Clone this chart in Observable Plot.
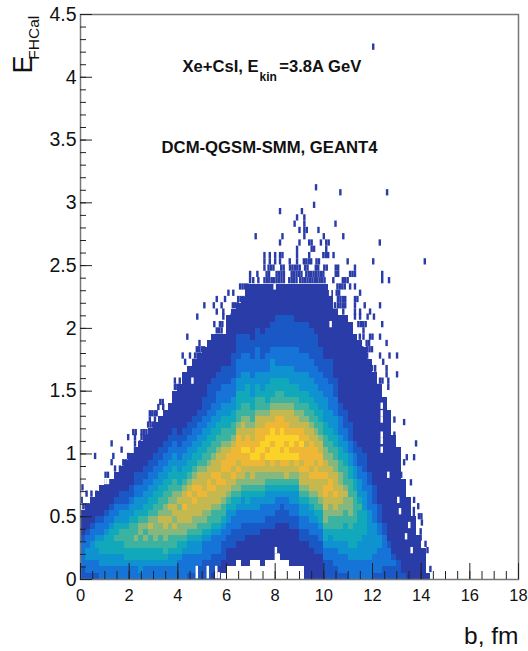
<!DOCTYPE html>
<html><head><meta charset="utf-8">
<script src="https://cdn.jsdelivr.net/npm/d3@7"></script>
<script src="https://cdn.jsdelivr.net/npm/@observablehq/plot@0.6"></script>
<style>html,body{margin:0;padding:0;background:#fff}svg{display:block}</style>
</head><body><div id="chart"></div>
<script>
const binB = 0.2, binE = 0.05;
// one string per 0.2 fm column, levels bottom to top, one character per 0.05 of E
const columns = [
"22333 32111 1","23344 33211 11","23344 43321 111","23344 54332 1111","33445 54332 11111",
"33445 55433 21111 1","33445 55543 32111 1","33445 56554 33211 11","33445 56654 43221 111","33455 66654 43221 1111",
"33455 66665 44322 11111","33455 67665 54433 22111 1","34455 66776 54433 22111 11","33455 67676 55443 32211 111","33455 66787 65544 33221 1111",
"33455 67777 66554 43322 11111","33455 66778 76655 44332 21111 1","33456 67788 77665 54433 22111 11","33445 66778 78766 55443 32211 111","33445 66787 88776 65544 33221 11111",
"33345 56778 87876 55443 32211 11111 1","33334 56778 89887 65544 33221 11111 111","23334 45678 88898 76554 43322 11111 1111","23334 45677 88989 87655 44332 21111 11111","22334 45667 88899 88765 54433 22111 11111 1",
"22233 34567 78898 88766 55443 32221 11111 11","22233 34566 78889 98876 65544 33222 21111 111","12223 33456 67889 89887 66554 43322 22111 1111","11223 33456 67888 99888 76655 44333 22211 1111","01122 23345 66788 98998 87665 54433 32221 1111",
"00111 22334 45678 88999 87665 54433 32221 11111 11","00111 22233 45567 89899 98766 55443 33222 21111 111","00011 12233 34567 78989 99987 66555 44333 22221 1111","00111 12223 34456 78899 a9888 76655 44433 32221 11111","00111 11223 34556 77899 a9987 76655 54433 32221 11111 11",
"00011 11223 34456 7889a 99887 66554 44333 22211 11111 11","00011 11223 34456 7789a a9998 87665 54433 33222 11111 11","00111 11123 33456 77899 aa998 87665 44433 22221 11111 11","00011 11122 33445 6788a 9aa99 87655 54433 32222 11111 11","00011 11122 33445 6789a a9aa9 88765 55444 33222 21111 11",
"00001 11112 23345 6788a aaa99 98766 55443 33222 22111 11","00011 11112 22345 6789a 9aaa9 98766 55443 33222 22111 11","00011 11112 23345 6889a a9a99 88765 55443 33222 22111 11","00111 11122 33445 6788a 9aa98 88765 54443 33222 22111 11","00111 11122 33445 6789a 99a98 87665 54433 33222 21111 11",
"00111 12233 44567 88989 9a998 77655 44433 32222 21111 11","11111 12233 44567 88999 98988 76655 44433 32222 21111 11","11111 22334 45678 89899 99887 66554 44333 22222 11111 11","11112 22334 56678 89989 98876 65544 43332 22221 11111 11","11112 23345 56788 89899 88766 55444 33322 22111 11111 11",
"22233 45567 78899 89887 76655 44443 33222 11111 11111 11","22233 44566 77889 98877 66554 44333 32222 11111 11111 1","22333 45566 78898 88776 65544 43332 22111 11111 111","23334 45566 77888 77665 54433 32211 11111 11111 11","23334 45556 67787 66655 44332 22111 11111 11111 11",
"33344 55566 77766 65544 33222 11111 11111 11111 1","33344 55556 66665 54433 22111 11111 11111 1111","33344 45555 56544 43322 21111 11111 11111 111","33344 44555 54443 33222 11111 11111 11111 11","33344 44444 43333 22111 11111 11111 11111",
"23334 44443 33222 11111 11111 11111 111","23333 44332 22111 11111 11111 11111 1","22333 33221 11111 11111 11111 1111","22333 21111 11111 11111 11111 11","22321 11111 11111 11111 111",
"22211 11111 11111 11111 1","21111 11111 11111 1","11111 11111 111","11111 11111","11111 11","11111","1"
];
// isolated 0.1 fm cells beyond the solid region: [E, b, b, ...]
const speckRows = [
[4.24,12.05],[3.12,9.7],[3.08,10.7,12.62],[2.98,9.62],[2.93,8.22,9.12],[2.88,8.92,9.22],[2.83,8.82,9.22,10.5],
[2.78,9.02,9.22,9.32,9.8],[2.73,7.22,8.32,9.22,10.02,10.82],[2.68,8.22,9.02,9.42,9.52,9.9,10.12,10.22,12.32],
[2.63,8.92,9.52,9.62,10.12],[2.58,7.58,7.8,8.02,8.22,8.32,8.92,9.42,10.0,10.1,10.2,10.42],
[2.53,7.58,7.8,8.02,8.22,8.62,8.92,9.2,9.3,9.4,9.5,9.72,9.82,11.0,12.05,14.17],
[2.48,7.58,7.75,7.85,7.95,8.27,8.37,8.63,8.73,8.83,8.93,9.03,9.25,9.35,9.69,9.79,10.04,10.14,10.51,10.61,11.3],
[2.43,6.99,7.29,7.67,7.77,8.08,8.18,8.28,8.38,8.7,8.8,8.9,9.0,9.1,9.3,9.4,9.5,9.6,9.7,9.8,9.9,10.0,10.51,10.61,11.1,11.2,11.3,12.42],
[2.38,6.99,7.12,7.33,7.58,7.68,7.78,7.88,7.98,8.08,8.18,8.28,8.38,8.6,8.7,8.8,8.9,9.05,9.15,9.25,9.35,9.45,9.55,9.65,9.75,9.85,9.95,10.05,10.41,10.8,10.9,11.0,12.42,12.7],
[2.33,6.58,6.68,6.78,6.88,10.58,10.68,10.78,10.88,11.1,11.3],
[2.28,6.1,6.3,6.92,7.02,10.55,10.65,11.51],
[2.23,5.62,5.96,6.5,6.6,6.7,6.8,7.06,10.6,10.7,10.8,10.9,11.3,11.4],
[2.18,5.11,5.5,5.82,6.28,6.38,6.48,6.78,10.48,10.6,10.7,10.8,10.9,11.3,11.7,12.33],
[2.13,5.62,5.89,10.41,10.55,10.82,11.3,11.51,11.92],
[2.09,4.82,5.89,6.23,11.3,11.51,11.82,12.08],
[2.03,5.52,5.75,5.85,6.17,10.6,10.7,10.8,11.44,11.54,11.64,11.74,12.42],
[1.98,5.62,5.72,5.82,10.9,11.0,11.65],
[1.93,4.41,11.5,11.65,11.92,12.02,12.33],
[1.88,4.91,11.1,11.2,11.78,11.88,12.6],
[1.83,4.8,4.9,5.0,5.1,11.3,11.6,11.8,11.9,12.0],
[1.78,4.22,4.52,4.73,4.83,4.93,11.5,11.6,11.7,11.8,12.33,12.72,13.03],
[1.73,4.32,4.66,11.5,11.6,11.7,11.8,12.46],
[1.68,11.9,12.0,12.13,12.6],
[1.63,11.8,11.9,12.13,12.6,13.03],
[1.58,3.9,4.1,4.4,11.8,11.95,12.05,12.33,12.43,12.67],
[1.53,3.9,4.0,4.1,12.2,12.3,12.67],
[1.41,3.3,3.4],[1.37,3.22,3.42],[1.32,2.87,2.97,3.07,3.15],[1.27,2.87,3.08,12.92],[1.25,13.32],[1.23,2.8,2.9,3.0],
[1.17,2.19,2.29,2.53,2.63,2.73,3.0],[1.15,12.92],[1.13,1.98,2.26,2.53,2.8],[1.08,1.3,2.26,2.46,13.81],[1.03,1.71,2.26],[1.02,12.97],
[0.98,0.62,1.37,1.98],[0.97,13.43,13.73],[0.93,1.3,1.78,1.88,2.0,13.32],[0.88,1.44,1.64,1.78],[0.83,1.05,1.15,13.2],
[0.77,13.6],[0.75,13.3],[0.73,0.1],[0.7,13.3],[0.68,0.27,0.47,0.68],[0.63,0.07,13.3,13.73],[0.58,0.14,0.24,0.34,0.44,13.5,13.9],
[0.55,13.72],[0.5,13.72,13.93,14.03],[0.45,13.72,14.05],[0.38,13.72,14.0],[0.33,14.0],[0.28,14.2],[0.23,13.95,14.28],
[0.18,14.12],[0.13,14.12],[0.08,14.12,14.4],[0.03,14.12]
];
// empty 0.1 fm cells inside the solid region: [E, b, b, ...]
const gapRows = [
[1.38,12.4],[1.32,12.4],[1.27,12.4],[1.15,12.4],[1.1,12.4],[1.03,12.4],[0.83,12.67],[0.78,0.95,1.05,1.15],[0.63,13.08],[0.54,13.15],
[0.43,13.53],[0.34,13.4],[0.23,13.63],[2.33,8.0],[2.28,10.28],[2.03,10.3],[1.58,4.62],[0.08,4.8,5.25,5.6],[0.03,4.8,5.25,5.6,5.7],
[0.08,8.05],[0.13,8.05,8.15],[0.18,8.05,8.15],[0.23,8.05]
];
const xMajor = [0,2,4,6,8,10,12,14,16,18];
const xMinor = d3.range(0,18.01,0.5);
const yMajor = [0,0.5,1,1.5,2,2.5,3,3.5,4,4.5];
const yMinor = d3.range(0,4.501,0.1);
const levelValues = ["1","2","3","4","5","6","7","8","9","a"];
const levelColors = ["#2a3ca8","#1a58c6","#1674d8","#0f92d0","#10a8ba","#3cb2a0","#86b87e","#c4b84e","#eeb836","#fbd226"];

const cells = [];
columns.forEach((c,j)=>{
  [...c.replace(/ /g,"")].forEach((ch,i)=>{
    if(ch!=="0") cells.push({b1:j*binB,b2:(j+1)*binB,e1:i*binE,e2:(i+1)*binE,level:ch});
  });
});
const expand = rows => rows.flatMap(([e,...bs])=>bs.map(b=>({b,e})));
const specks = expand(speckRows);
const gaps = expand(gapRows);

const plot = Plot.plot({
  width:528,height:651,marginLeft:80,marginRight:10,marginTop:14,marginBottom:72,
  style:{fontFamily:"'Liberation Sans',Arial,sans-serif",background:"#fff",color:"#111"},
  x:{domain:[0,18],axis:null},
  y:{domain:[0,4.5],axis:null},
  color:{type:"ordinal",domain:levelValues,range:levelColors},
  marks:[
    Plot.rect(cells,{x1:"b1",x2:"b2",y1:"e1",y2:"e2",fill:"level",shapeRendering:"crispEdges"}),
    Plot.rect(gaps,{x1:d=>d.b-0.05,x2:d=>d.b+0.05,y1:d=>d.e-0.025,y2:d=>d.e+0.025,fill:"#fff"}),
    Plot.rect(specks,{x1:d=>d.b-0.05,x2:d=>d.b+0.05,y1:d=>d.e-0.025,y2:d=>d.e+0.025,fill:()=>"1"}),
    Plot.frame({stroke:"#777",strokeWidth:1.5}),
    Plot.axisX({ticks:xMinor,tickSize:-8,text:null,label:null,stroke:"#222"}),
    Plot.axisX({ticks:xMajor,tickSize:-16,text:null,label:null,stroke:"#222"}),
    Plot.axisY({ticks:yMinor,tickSize:-6,text:null,label:null,stroke:"#222"}),
    Plot.axisY({ticks:yMajor,tickSize:-12,text:null,label:null,stroke:"#222"}),
    Plot.axisX({ticks:xMajor,tickSize:0,tickPadding:10,label:null,fontSize:16.5,tickFormat:d=>d}),
    Plot.axisY({ticks:yMajor,tickSize:0,tickPadding:4,label:null,fontSize:19.5,tickFormat:d=>d}),
    Plot.text(["b, fm"],{x:18,y:-0.51,text:d=>d,textAnchor:"end",fontSize:24.5,lineAnchor:"bottom"}),
    Plot.text(["E"],{x:-2.0,y:4.03,text:d=>d,textAnchor:"start",rotate:-90,fontSize:27,lineAnchor:"bottom"}),
    Plot.text(["FHCal"],{x:-1.69,y:4.14,text:d=>d,textAnchor:"start",rotate:-90,fontSize:15.5,lineAnchor:"bottom"}),
    Plot.text(["Xe+CsI, E"],{x:4.19,y:4.04,text:d=>d,textAnchor:"start",fontSize:16.6,fontWeight:"bold",lineAnchor:"bottom"}),
    Plot.text(["kin"],{x:7.36,y:3.97,text:d=>d,textAnchor:"start",fontSize:12,fontWeight:"bold",lineAnchor:"bottom"}),
    Plot.text(["=3.8A GeV"],{x:8.17,y:4.04,text:d=>d,textAnchor:"start",fontSize:16.6,fontWeight:"bold",lineAnchor:"bottom"}),
    Plot.text(["DCM-QGSM-SMM, GEANT4"],{x:3.33,y:3.4,text:d=>d,textAnchor:"start",fontSize:16.7,fontWeight:"bold",lineAnchor:"bottom"})
  ]
});
document.getElementById("chart").appendChild(plot);
</script></body></html>
